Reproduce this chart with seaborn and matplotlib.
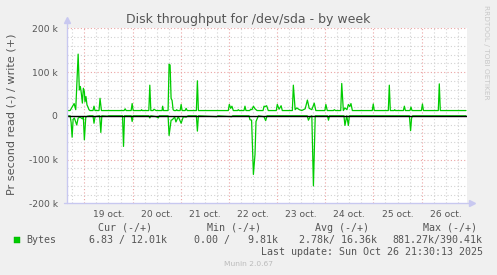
import matplotlib
matplotlib.use("Agg")
import matplotlib.pyplot as plt
import seaborn as sns
import numpy as np
import pandas as pd
from matplotlib.patches import Rectangle

# ---------------- data (hours since 18 oct 00:00, values in k bytes/s) ----------------
write_hours = [15.2, 16.9, 18.9, 19.7, 20.9, 21.5, 22.0, 22.5, 23.0, 23.5, 24.0, 24.3, 24.8, 25.3, 25.8, 26.3, 26.8,
               28.3, 28.8, 29.3, 31.3, 31.8, 32.5, 43.8, 44.3, 44.8, 47.3, 47.8, 48.3, 52.2, 52.5, 52.8,
               56.1, 56.6, 57.1, 58.2, 58.7, 59.7, 62.7, 63.0, 63.4,
               65.7, 66.2, 66.7, 67.2, 67.7, 68.2, 68.7, 69.7, 70.0, 70.4, 71.7, 72.2, 72.7, 74.2, 74.7, 75.2,
               79.8, 80.3, 80.8, 95.7, 96.2, 96.9, 97.5, 98.2, 100.3, 100.7, 101.1, 103.5, 104.0, 104.5,
               106.4, 106.8, 107.5, 108.2, 109.0, 110.0, 113.0, 113.5, 114.0, 114.8, 115.6,
               119.6, 120.1, 121.0, 122.0, 122.6, 127.6, 128.1, 129.0, 129.8, 131.1, 132.3, 134.0, 135.1,
               136.0, 137.3, 138.5, 139.3, 143.8, 144.3, 145.0, 148.1, 148.5, 149.1,
               151.7, 152.2, 153.0, 153.8, 154.8, 155.5, 156.2, 156.8, 157.5,
               167.4, 167.9, 168.4, 175.4, 175.9, 176.4, 178.3, 178.6, 178.9, 182.9, 183.4, 183.9,
               186.2, 186.7, 187.2, 191.9, 192.4, 192.9, 200.3, 200.8, 201.3, 214.1]
write_kbps = [12, 12, 28, 14, 141, 59, 67, 51, 29, 63, 55, 32, 44, 25, 20, 14, 12,
              12, 22, 12, 12, 40, 12, 12, 16, 12, 12, 28, 12, 12, 14, 12,
              12, 70, 12, 12, 15, 12, 12, 22, 12,
              12, 118, 116, 40, 35, 14, 12, 12, 14, 12, 12, 26, 12, 12, 17, 12,
              12, 80, 12, 12, 26, 17, 22, 12, 12, 14, 12, 12, 22, 12,
              12, 15, 14, 22, 16, 12, 12, 22, 21, 23, 12,
              12, 26, 15, 23, 12, 12, 70, 14, 18, 14, 12, 16, 36,
              17, 14, 29, 12, 12, 26, 12, 12, 14, 12,
              12, 74, 12, 18, 14, 26, 21, 28, 12,
              12, 27, 12, 12, 70, 12, 12, 14, 12, 12, 22, 12,
              12, 20, 12, 12, 27, 12, 12, 73, 12, 12]

read_hours = [15.2, 16.9, 17.4, 17.9, 18.4, 19.0, 20.2, 20.9, 21.9, 23.0, 23.5, 24.0, 24.7, 25.5, 26.5,
              28.3, 28.8, 29.3, 30.3, 31.6, 32.2, 32.7, 35.5, 36.0, 43.0, 43.5, 44.0, 47.3, 47.8, 48.3,
              56.1, 56.6, 57.1, 59.9, 60.8, 61.3,
              65.7, 66.2, 67.2, 67.8, 69.0, 69.6, 70.8, 72.2, 73.3, 74.7, 75.7, 79.8, 80.3, 80.8,
              90.0, 90.5, 97.4, 97.9, 106.0, 106.5, 107.3, 108.2, 109.0, 109.5, 110.7,
              113.5, 114.3, 115.0, 135.0, 135.6, 136.5, 137.3, 138.1, 139.0, 145.1, 145.6, 146.1,
              153.3, 153.8, 154.7, 155.5, 156.0, 185.9, 186.5, 187.0, 187.5, 214.1]
read_kbps = [0, 0, 15, 49, 8, 5, 21, 5, 3, 7, 3, 55, 3, 1, 0,
             0, 17, 2, 1, 0, 38, 0, 1, 0, 0, 70, 0, 0, 13, 0,
             0, 5, 0, 2, 5, 0,
             0, 45, 10, 9, 3, 14, 2, 17, 2, 3, 0, 0, 35, 0,
             2, 0, 2, 0, 0, 9, 10, 134, 88, 13, 0,
             2, 11, 0, 0, 10, 2, 0, 160, 0, 0, 10, 0,
             0, 22, 0, 22, 0, 0, 34, 5, 0, 0]

day_labels = ["19 oct.", "20 oct.", "21 oct.", "22 oct.", "23 oct.", "24 oct.", "25 oct.", "26 oct."]
day_label_hours = [36, 60, 84, 108, 132, 156, 180, 204]
ytick_values = [-200, -100, 0, 100, 200]
ytick_labels = ["-200 k", "-100 k", "0", "100 k", "200 k"]

legend_header = ["Cur (-/+)", "Min (-/+)", "Avg (-/+)", "Max (-/+)"]
legend_values = ["6.83 / 12.01k", "0.00 /   9.81k", "2.78k/ 16.36k", "881.27k/390.41k"]

# ---------------- style ----------------
sns.set_style("white")
plt.rcParams['font.family'] = ['DejaVu Sans']

W, H = 497, 275
GREEN = "#00CC00"
TXT = "#555555"
AXC = "#C8C8F0"
MAJ = "#EBA3A3"
MIN = "#D2D2D2"

fig = plt.figure(figsize=(W / 100, H / 100), dpi=100, facecolor="#F0F0F0")
x0, x1 = 66.7, 467.0
y0, y1 = 28.3, 203.3
ax = fig.add_axes([x0 / W, 1 - y1 / H, (x1 - x0) / W, (y1 - y0) / H])
ax.set_facecolor("white")

xmin, xmax = 15.2, 214.6
ax.set_xlim(xmin, xmax)
ax.set_ylim(-200, 200)

# grid
dot = (0, (1, 2))
for h in np.arange(18, xmax, 6):
    ax.axvline(h, color=MAJ if h % 24 == 0 else MIN, lw=0.8, ls=dot, zorder=0.5)
for v in range(-180, 201, 20):
    ax.axhline(v, color=MAJ if v % 100 == 0 else MIN, lw=0.8, ls=dot, zorder=0.5)

# data
df_w = pd.DataFrame({"hours": write_hours, "kbps": write_kbps})
df_r = pd.DataFrame({"hours": read_hours, "kbps": -np.array(read_kbps, dtype=float)})
sns.lineplot(data=df_r, x="hours", y="kbps", color=GREEN, lw=0.9, ax=ax,
             estimator=None, sort=False, zorder=3)
ax.axhline(0, color="black", lw=1.0, zorder=3.5)
sns.lineplot(data=df_w, x="hours", y="kbps", color=GREEN, lw=0.9, ax=ax,
             estimator=None, sort=False, zorder=4)

# axes
for s in ["top", "right"]:
    ax.spines[s].set_visible(False)
ax.spines["left"].set_visible(False)
ax.spines["bottom"].set_visible(False)
ax.plot([0, 0], [0, 1.03], transform=ax.transAxes, color=AXC, lw=1.0, clip_on=False, zorder=5)
ax.plot([-0.006, 1.008], [0, 0], transform=ax.transAxes, color=AXC, lw=1.0, clip_on=False, zorder=5)
ax.plot([0], [1.045], transform=ax.transAxes, marker="^", ms=4.5, color=AXC, mec=AXC, clip_on=False, zorder=5)
ax.plot([1.012], [0], transform=ax.transAxes, marker=">", ms=4.5, color=AXC, mec=AXC, clip_on=False, zorder=5)

ax.set_xticks(day_label_hours, day_labels)
ax.set_yticks(ytick_values, ytick_labels)
ax.tick_params(axis="x", length=0, pad=4.5, labelsize=6.6, labelcolor=TXT)
ax.tick_params(axis="y", length=2, width=0.6, color=AXC, pad=4.5, labelsize=6.6, labelcolor=TXT)
ax.set_xlabel("")
ax.set_ylabel("")

# texts
fig.text(248.5 / W, 1 - 19 / H, "Disk throughput for /dev/sda - by week", ha="center", va="center",
         fontsize=9, color=TXT)
fig.text(11.5 / W, 1 - 114 / H, "Pr second read (-) / write (+)", rotation=90, ha="center", va="center",
         fontsize=8.1, color=TXT)
fig.text(486 / W, 1 - 5 / H, "RRDTOOL / TOBI OETIKER", rotation=270, ha="center", va="top",
         fontsize=5.3, color="#C8C8C8")

mono = dict(family="DejaVu Sans Mono", fontsize=7.2, color=TXT, va="baseline", ha="left")
for lbl, xl in zip(legend_header, [98.3, 206.7, 315.0, 422.7]):
    fig.text(xl / W, 1 - 231 / H, lbl, **mono)
fig.patches.append(Rectangle((14 / W, 1 - 243 / H), 6 / W, 6 / H, transform=fig.transFigure,
                             facecolor=GREEN, edgecolor="#00AA00", lw=0.3))
fig.text(26.7 / W, 1 - 243.3 / H, "Bytes", **mono)
for val, xl in zip(legend_values, [89.3, 194.3, 299.3, 392.3]):
    fig.text(xl / W, 1 - 243.3 / H, val, **mono)
fig.text(261 / W, 1 - 255 / H, "Last update: Sun Oct 26 21:30:13 2025", **mono)
fig.text(248 / W, 1 - 264 / H, "Munin 2.0.67", ha="center", va="center", fontsize=5.4, color="#BBBBBB")

fig.savefig("out.png", dpi=100, facecolor=fig.get_facecolor())
